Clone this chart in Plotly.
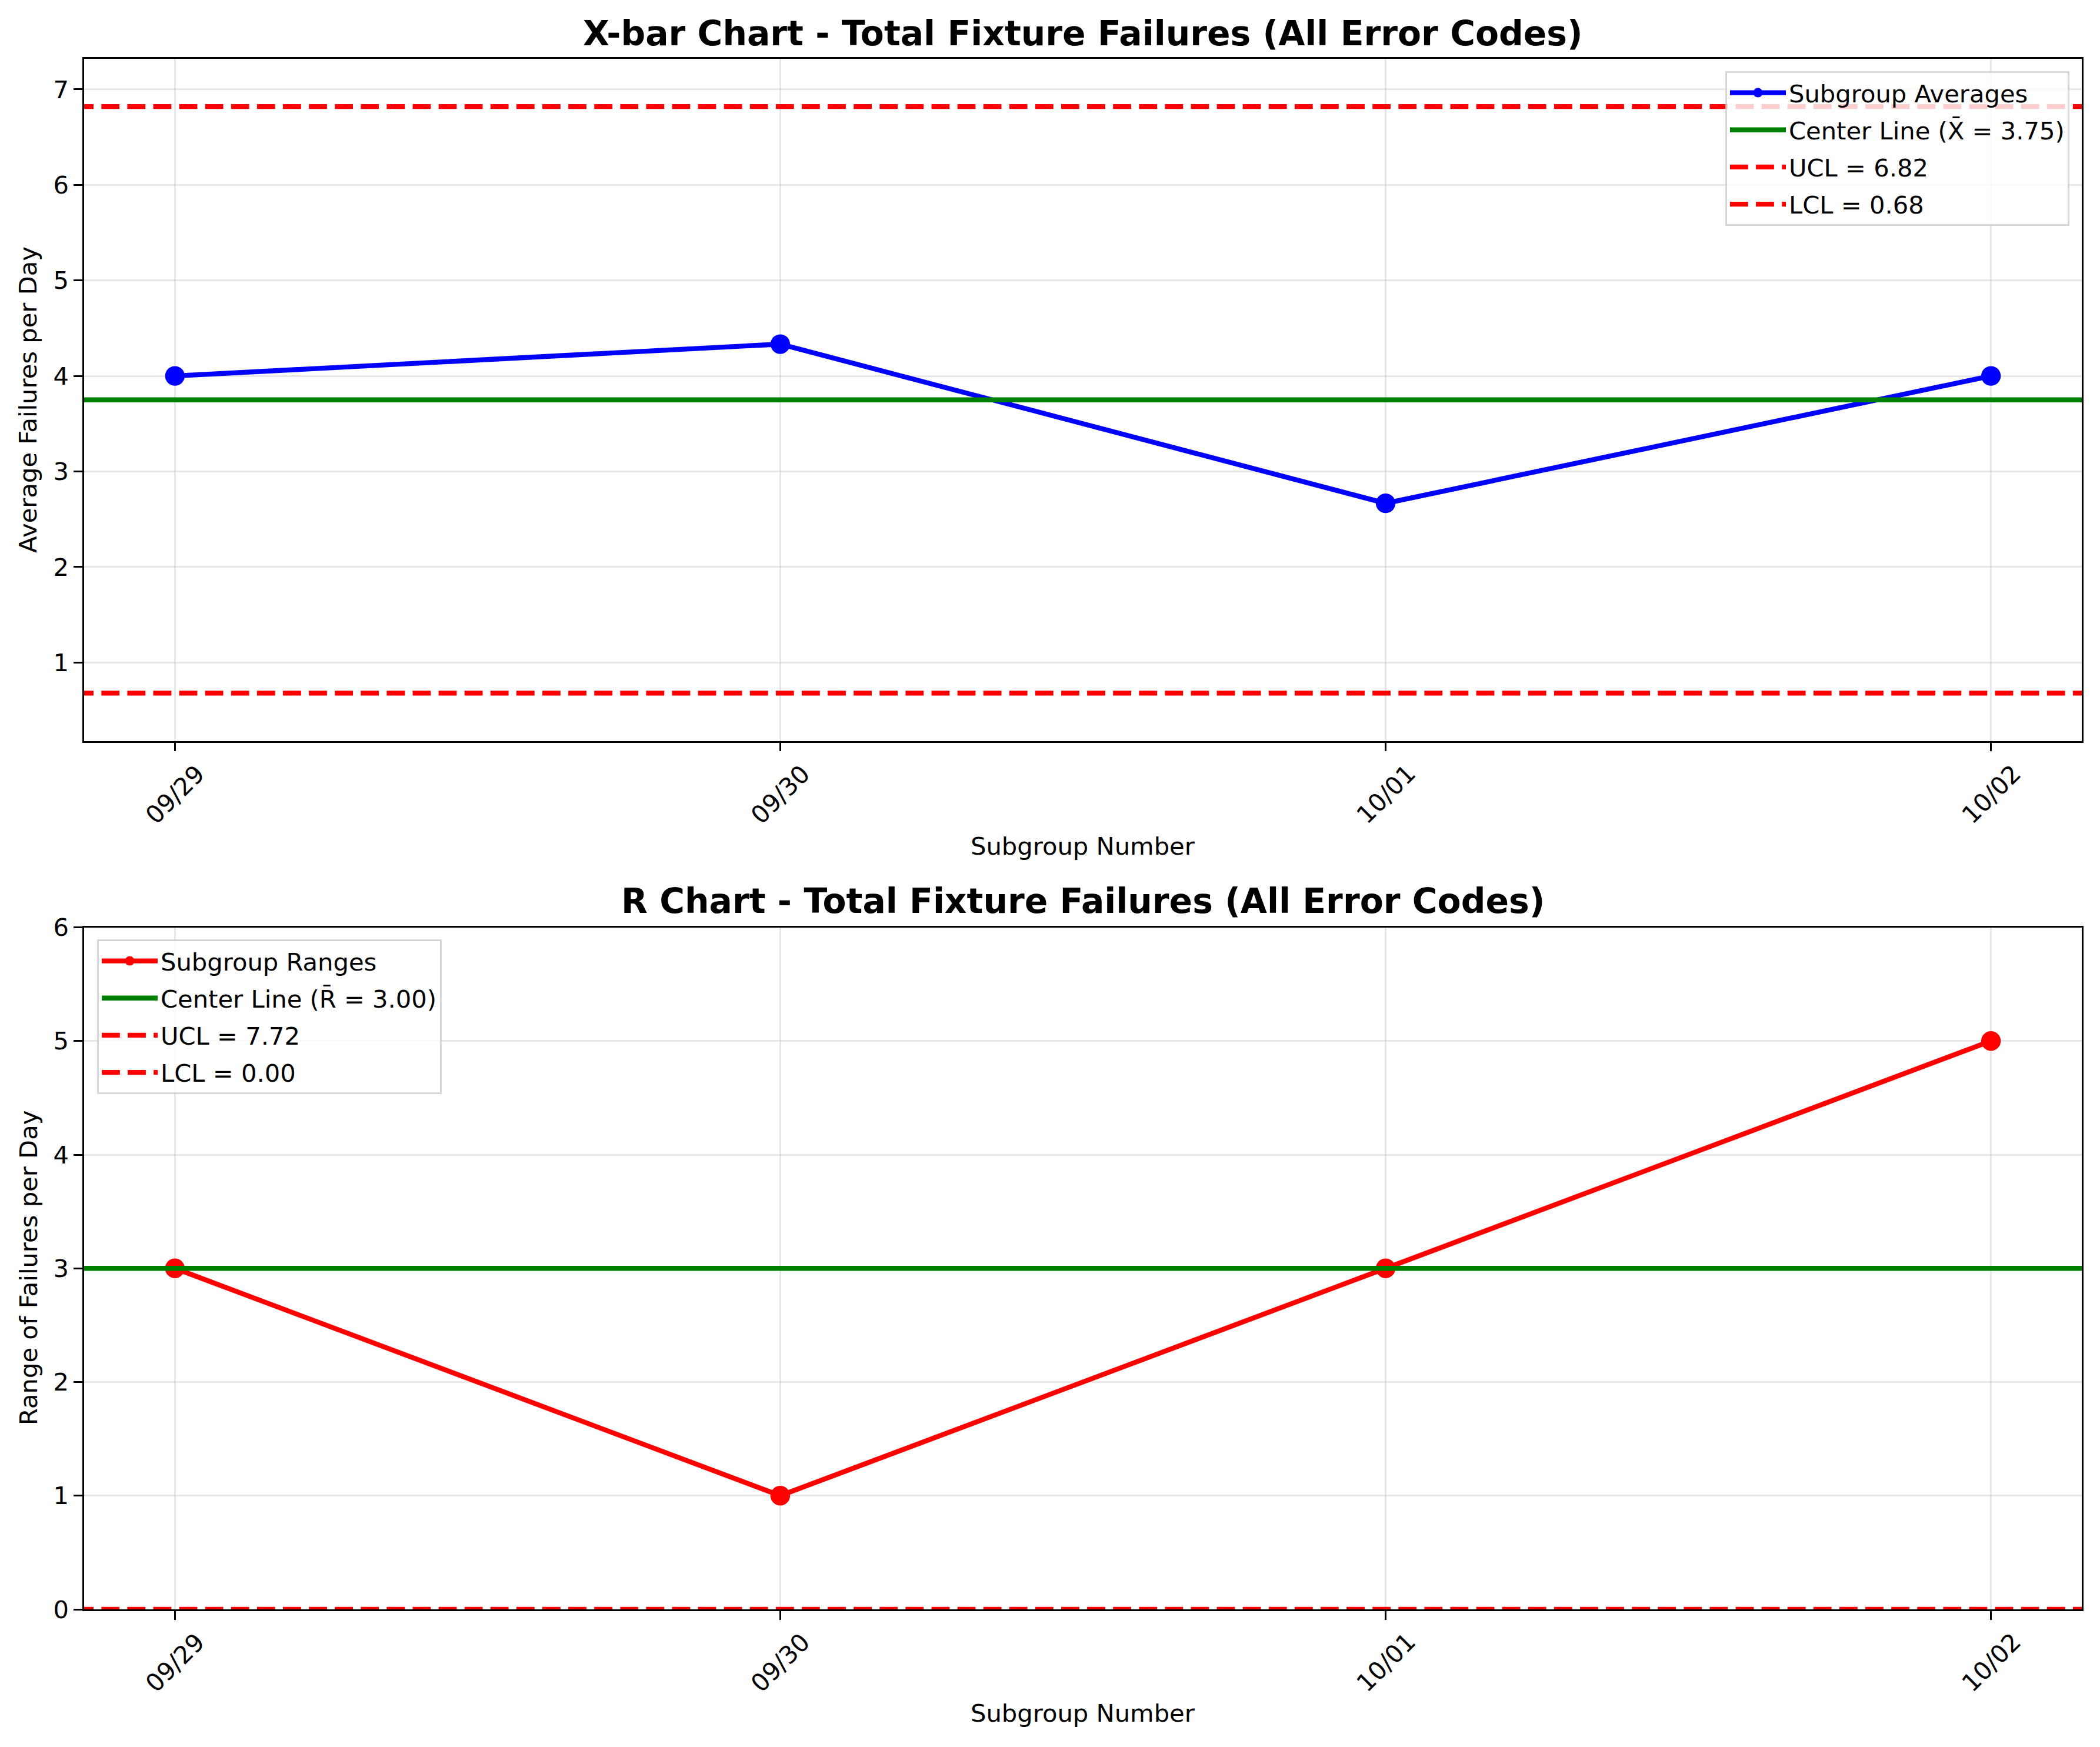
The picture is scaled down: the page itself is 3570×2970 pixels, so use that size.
import plotly.graph_objects as go

# ---- data ----
days = ["09/29", "09/30", "10/01", "10/02"]
xbar_values = [4.0, 4.333, 2.667, 4.0]
xbar_center = 3.75
xbar_ucl = 6.82
xbar_lcl = 0.68
range_values = [3, 1, 3, 5]
r_center = 3.00
r_ucl = 7.72
r_lcl = 0.00

# ---- geometry (page pixels, page has an 8px body margin) ----
W, H = 3570, 2970
OFF = 8
ML, MT = 143 - OFF, 100 - OFF
MR = W - (3539 - OFF)
MB = H - (2736 - OFF)
PH = H - MT - MB
PW = W - ML - MR


def py(pix):
    return (H - MB - (pix - OFF)) / PH


def px(pix):
    return (pix - OFF - ML) / PW


FONT = "DejaVu Sans"
PT = 300 / 72
LW = 2 * PT
DASH = f"{3.7*LW:.1f}px,{1.6*LW:.1f}px"
GRID = "rgba(176,176,176,0.3)"

xi = list(range(len(days)))
xlo, xhi = -0.05 * (len(days) - 1), (len(days) - 1) * 1.05
span = [xlo - 1, xhi + 1]

fig = go.Figure()


def add(x, y, name, color, xa, ya, leg, mode="lines", dash=None, grp=""):
    kw = dict(line=dict(color=color, width=LW, dash=dash))
    if "markers" in mode:
        kw["marker"] = dict(color=color, size=8 * PT)
    fig.add_trace(go.Scatter(x=x, y=y, mode=mode, name=name, xaxis=xa, yaxis=ya,
                             legend=leg, legendgroup=grp, **kw))


# X-bar chart
add(xi, xbar_values, "Subgroup Averages", "blue", "x", "y", "legend", "lines+markers", grp="a1")
add(span, [xbar_center] * 2, f"Center Line (X\u0304 = {xbar_center:.2f})", "green", "x", "y", "legend", grp="a2")
add(span, [xbar_ucl] * 2, f"UCL = {xbar_ucl:.2f}", "red", "x", "y", "legend", dash=DASH, grp="a3")
add(span, [xbar_lcl] * 2, f"LCL = {xbar_lcl:.2f}", "red", "x", "y", "legend", dash=DASH, grp="a4")

# R chart
add(xi, range_values, "Subgroup Ranges", "red", "x2", "y2", "legend2", "lines+markers", grp="b1")
add(span, [r_center] * 2, f"Center Line (R\u0304 = {r_center:.2f})", "green", "x2", "y2", "legend2", grp="b2")
add(span, [r_ucl] * 2, f"UCL = {r_ucl:.2f}", "red", "x2", "y2", "legend2", dash=DASH, grp="b3")
add(span, [r_lcl] * 2, f"LCL = {r_lcl:.2f}", "red", "x2", "y2", "legend2", dash=DASH, grp="b4")

tickfont = dict(family=FONT, size=10 * PT, color="black")
axis_common = dict(showline=True, mirror=True, linecolor="black", linewidth=0.8 * PT,
                   ticks="outside", ticklen=3.5 * PT, tickwidth=0.8 * PT, tickcolor="black",
                   showgrid=True, gridcolor=GRID, gridwidth=0.8 * PT, zeroline=False,
                   tickfont=tickfont, layer="below traces")

top_dom = [py(1259.5), 1]
bot_dom = [0, py(1576.5)]

legend_common = dict(bgcolor="rgba(255,255,255,0.8)", bordercolor="rgba(204,204,204,0.8)", borderwidth=3,
                     font=dict(family=FONT, size=10 * PT, color="black"), itemwidth=95,
                     tracegroupgap=6)

fig.update_layout(
    width=W, height=H, plot_bgcolor="white", paper_bgcolor="white",
    margin=dict(l=ML, r=MR, t=MT, b=MB),
    font=dict(family=FONT, color="black"),
    xaxis=dict(domain=[0, 1], anchor="y", range=[xlo, xhi], tickvals=xi, showticklabels=False, **axis_common),
    yaxis=dict(domain=top_dom, anchor="x", range=[xbar_lcl - 0.5, xbar_ucl + 0.5], dtick=1, **axis_common),
    xaxis2=dict(domain=[0, 1], anchor="y2", range=[xlo, xhi], tickvals=xi, showticklabels=False, **axis_common),
    yaxis2=dict(domain=bot_dom, anchor="x2", range=[0, 6], dtick=1, **axis_common),
    legend=dict(x=px(3518), y=py(121), xanchor="right", yanchor="top", **legend_common),
    legend2=dict(x=px(165), y=py(1597), xanchor="left", yanchor="top", **legend_common),
    showlegend=True,
)

ann = []
titles = [("X-bar Chart - Total Fixture Failures (All Error Codes)", 57),
          ("R Chart - Total Fixture Failures (All Error Codes)", 1532)]
for t, yp in titles:
    ann.append(dict(text=f"<b>{t}</b>", xref="paper", yref="paper", x=0.5, y=py(yp),
                    xanchor="center", yanchor="middle", showarrow=False,
                    font=dict(family=FONT, size=14 * PT, color="black")))
for yp in (1439, 2912):
    ann.append(dict(text="Subgroup Number", xref="paper", yref="paper", x=0.5, y=py(yp),
                    xanchor="center", yanchor="middle", showarrow=False,
                    font=dict(family=FONT, size=10 * PT, color="black")))
for t, yp in (("Average Failures per Day", 680), ("Range of Failures per Day", 2156)):
    ann.append(dict(text=t, xref="paper", yref="paper", x=px(48), y=py(yp), textangle=-90,
                    xanchor="center", yanchor="middle", showarrow=False,
                    font=dict(family=FONT, size=10 * PT, color="black")))
for xr, yp in (("x", 1350), ("x2", 2826)):
    for i, d in zip(xi, days):
        ann.append(dict(text=d, xref=xr, yref="paper", x=i, y=py(yp), textangle=-45,
                        xanchor="center", yanchor="middle", showarrow=False,
                        font=tickfont))
fig.update_layout(annotations=ann)

fig.write_html("out.html")
